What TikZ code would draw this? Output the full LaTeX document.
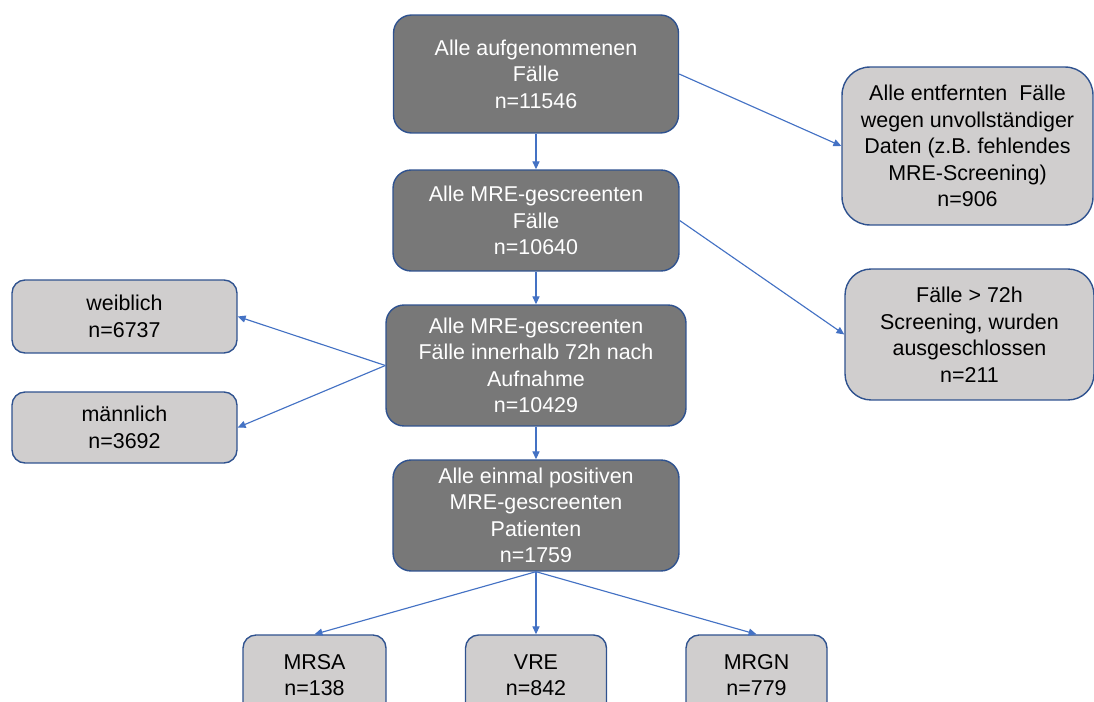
\documentclass[tikz,border=0pt]{standalone}
\usepackage{fontspec}
\setmainfont{Liberation Sans}
\usetikzlibrary{arrows.meta}
\definecolor{boxdark}{HTML}{787878}
\definecolor{boxlight}{HTML}{D0CECE}
\definecolor{boxline}{HTML}{2F528F}
\definecolor{arrowblue}{HTML}{4472C4}
\begin{document}
\begin{tikzpicture}[>={Triangle[length=4.5pt,width=4pt]}, x=0.02cm, y=-0.02cm,
  every node/.style={align=center, inner sep=0pt, font=\fontsize{12.2}{15.1}\selectfont},
  darkbox/.style={draw=boxline, line width=0.8pt, fill=boxdark, text=white, rounded corners=0.36cm},
  lightbox/.style={draw=boxline, line width=0.8pt, fill=boxlight, text=black, rounded corners=0.26cm},
  flow/.style={->, arrowblue, line width=0.65pt}]
\useasboundingbox (0,0) rectangle (1094,702);
\clip (0,0) rectangle (1094,702);
% main column
\node[darkbox, minimum width=5.70cm, minimum height=2.36cm] (aufgenommen) at (536,74) {Alle aufgenommenen\\Fälle\\n=11546};
\node[darkbox, minimum width=5.72cm, minimum height=2.02cm] (gescreent) at (536,220.5) {Alle MRE-gescreenten\\Fälle\\n=10640};
\node[darkbox, minimum width=6.00cm, minimum height=2.42cm] (innerhalb) at (536,365.5) {Alle MRE-gescreenten\\Fälle innerhalb 72h nach\\Aufnahme\\n=10429};
\node[darkbox, minimum width=5.72cm, minimum height=2.22cm] (positiv) at (536,515.5) {Alle einmal positiven\\MRE-gescreenten\\Patienten\\n=1759};
% excluded cases
\node[lightbox, rounded corners=0.56cm, minimum width=5.02cm, minimum height=3.16cm] (entfernt) at (967.5,146) {Alle entfernten\ \ Fälle\\wegen unvollständiger\\Daten (z.B. fehlendes\\MRE-Screening)\\n=906};
\node[lightbox, rounded corners=0.52cm, minimum width=4.98cm, minimum height=2.62cm] (spaet) at (969.5,334.5) {Fälle > 72h\\Screening, wurden\\ausgeschlossen\\n=211};
% sex
\node[lightbox, minimum width=4.50cm, minimum height=1.46cm] (weiblich) at (124.5,316.5) {weiblich\\n=6737};
\node[lightbox, minimum width=4.50cm, minimum height=1.42cm] (maennlich) at (124.5,427.5) {männlich\\n=3692};
% pathogens
\node[lightbox, minimum width=2.86cm, minimum height=1.60cm] (mrsa) at (314.5,675) {MRSA\\n=138};
\node[lightbox, minimum width=2.82cm, minimum height=1.60cm] (vre) at (536,675) {VRE\\n=842};
\node[lightbox, minimum width=2.82cm, minimum height=1.60cm] (mrgn) at (756.5,675) {MRGN\\n=779};
\draw[flow] (aufgenommen) -- (gescreent);
\draw[flow] (gescreent) -- (innerhalb);
\draw[flow] (innerhalb) -- (positiv);
\draw[flow] (aufgenommen.east) -- (entfernt.west);
\draw[flow] (gescreent.east) -- (spaet.west);
\draw[flow] (innerhalb.west) -- (weiblich.east);
\draw[flow] (innerhalb.west) -- (maennlich.east);
\draw[flow] (positiv.south) -- (mrsa.north);
\draw[flow] (positiv.south) -- (vre.north);
\draw[flow] (positiv.south) -- (mrgn.north);
\end{tikzpicture}
\end{document}
